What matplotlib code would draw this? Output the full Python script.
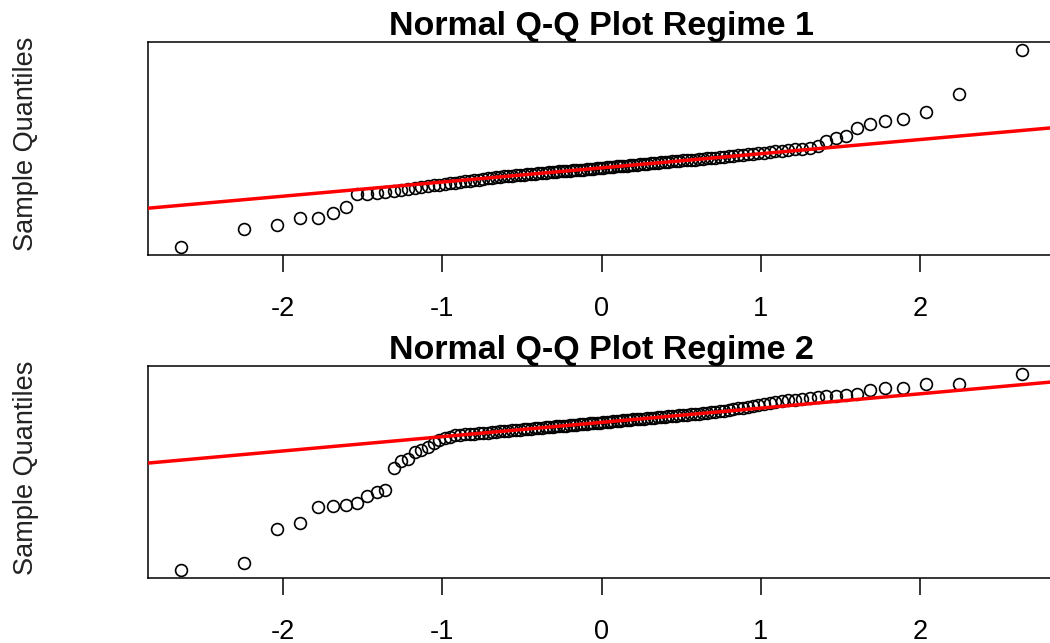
import numpy as np
import matplotlib
matplotlib.use('Agg')
import matplotlib.pyplot as plt
from statistics import NormalDist

# sorted sample values (no y scale shown in the original, read relative to the qq line)
regime1 = [
    -5.62, -4.33, -4.07, -3.58, -3.54, -3.17, -2.76, -1.89, -1.82, -1.76,
    -1.70, -1.64, -1.57, -1.50, -1.43, -1.37, -1.31, -1.25, -1.19, -1.14,
    -1.09, -1.04, -1.00, -0.96, -0.91, -0.87, -0.83, -0.79, -0.75, -0.71,
    -0.67, -0.64, -0.61, -0.59, -0.56, -0.54, -0.51, -0.49, -0.47, -0.44,
    -0.42, -0.40, -0.37, -0.35, -0.33, -0.31, -0.29, -0.26, -0.24, -0.22,
    -0.20, -0.18, -0.16, -0.14, -0.12, -0.09, -0.07, -0.05, -0.03, -0.01,
    0.01, 0.03, 0.05, 0.07, 0.10, 0.12, 0.14, 0.16, 0.18, 0.20,
    0.22, 0.25, 0.27, 0.29, 0.31, 0.33, 0.35, 0.38, 0.40, 0.42,
    0.45, 0.47, 0.49, 0.52, 0.54, 0.57, 0.59, 0.61, 0.64, 0.67,
    0.69, 0.73, 0.76, 0.79, 0.82, 0.85, 0.89, 0.92, 0.96, 1.00,
    1.04, 1.08, 1.12, 1.17, 1.22, 1.27, 1.32, 1.37, 1.42, 1.52,
    1.88, 2.12, 2.29, 2.79, 3.14, 3.31, 3.43, 3.95, 5.26, 8.36,
]

regime2 = [
    -10.23, -9.72, -7.36, -6.97, -5.83, -5.82, -5.72, -5.58, -5.09, -4.81,
    -4.69, -3.19, -2.66, -2.54, -2.08, -1.92, -1.69, -1.46, -1.20, -1.10,
    -0.99, -0.90, -0.86, -0.83, -0.80, -0.78, -0.75, -0.73, -0.71, -0.69,
    -0.66, -0.63, -0.61, -0.58, -0.56, -0.53, -0.51, -0.49, -0.46, -0.44,
    -0.42, -0.39, -0.37, -0.35, -0.33, -0.31, -0.28, -0.26, -0.24, -0.22,
    -0.20, -0.18, -0.16, -0.13, -0.11, -0.09, -0.07, -0.05, -0.03, -0.01,
    0.01, 0.03, 0.05, 0.07, 0.09, 0.12, 0.14, 0.16, 0.18, 0.20,
    0.22, 0.24, 0.26, 0.29, 0.31, 0.33, 0.35, 0.37, 0.40, 0.42,
    0.44, 0.47, 0.49, 0.51, 0.54, 0.56, 0.59, 0.61, 0.64, 0.66,
    0.69, 0.73, 0.77, 0.81, 0.86, 0.91, 0.97, 1.03, 1.09, 1.15,
    1.22, 1.28, 1.34, 1.39, 1.45, 1.52, 1.56, 1.61, 1.67, 1.74,
    1.80, 1.85, 1.90, 1.97, 2.25, 2.37, 2.38, 2.63, 2.64, 3.36,
]

titles = ['Normal Q-Q Plot Regime 1', 'Normal Q-Q Plot Regime 2']
xticks = [-2, -1, 0, 1, 2]

plt.rcParams['font.family'] = ['Liberation Sans', 'DejaVu Sans']

fig = plt.figure(figsize=(10.5, 6.43), dpi=100)
# right edge of the plot box runs just past the image, as in the original
boxes = [[0.1406, 0.6034, 0.8646, 0.3313],
         [0.1406, 0.1011, 0.8646, 0.3297]]

nd = NormalDist()


def qqplot(ax, sample, title):
    y = np.sort(np.asarray(sample, dtype=float))
    n = len(y)
    # theoretical quantiles like R's qqnorm (ppoints)
    a = 3 / 8 if n <= 10 else 0.5
    x = np.array([nd.inv_cdf((i - a) / (n + 1 - 2 * a)) for i in range(1, n + 1)])
    ax.plot(x, y, 'o', mfc='none', mec='black', ms=8.5, mew=1.2, zorder=2)
    # qqline through the 1st and 3rd quartiles
    q1, q3 = np.percentile(y, [25, 75])
    z1, z3 = nd.inv_cdf(0.25), nd.inv_cdf(0.75)
    ax.axline((z1, q1), slope=(q3 - q1) / (z3 - z1), color='red', lw=2.5, zorder=3)

    ax.margins(0.04)
    ax.set_xticks(xticks)
    ax.set_xticklabels([str(t) for t in xticks])
    ax.set_yticks([])
    ax.tick_params(axis='x', labelsize=19.5, length=12.5, width=1.1, pad=17, color='black')
    for s in ax.spines.values():
        s.set_linewidth(1.1)
        s.set_color('black')
    ax.set_title(title, fontsize=24.5, fontweight='bold', pad=5)
    ax.set_ylabel('Sample Quantiles', fontsize=19.5, color='#222222')
    ax.yaxis.set_label_coords(-0.120, 0.52)


for box, data, t in zip(boxes, [regime1, regime2], titles):
    ax = fig.add_axes(box)
    qqplot(ax, data, t)

fig.savefig('out.png', dpi=100, facecolor='white')
